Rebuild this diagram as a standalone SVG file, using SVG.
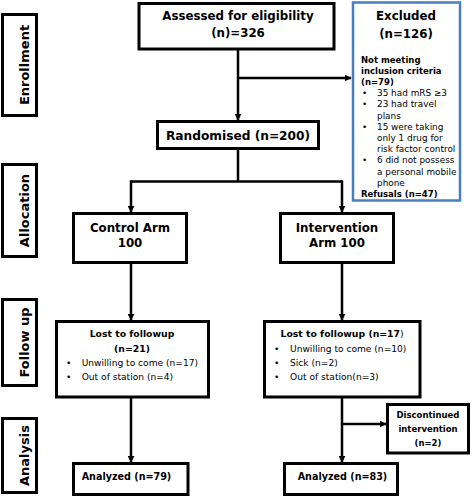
<svg xmlns="http://www.w3.org/2000/svg" width="472" height="497" viewBox="0 0 472 497">
<style>
.box{fill:#fff;stroke:#000;stroke-width:3}
.blue{fill:#fff;stroke:#4a7ebf;stroke-width:2.5}
.ln{fill:none;stroke:#000;stroke-width:2.5}
text{font-family:"DejaVu Sans","Verdana",sans-serif;fill:#000}
.h{font-weight:bold;font-size:11.8px;text-anchor:middle}
.lab{font-weight:bold;font-size:13px;text-anchor:middle}
.b9{font-weight:bold;font-size:9.3px}
.r9{font-size:9.1px}
.an{font-weight:bold;font-size:9.6px}
.bx{font-weight:bold;font-size:8.5px}
.rx{font-size:8.9px}
.c{text-anchor:middle}
</style>
<defs>
<marker id="ah" viewBox="0 0 10 10" refX="9" refY="5" markerWidth="7" markerHeight="7" markerUnits="userSpaceOnUse" orient="auto">
<path d="M0,0 L10,5 L0,10 z" fill="#000"/>
</marker>
</defs>
<rect width="472" height="497" fill="#fff"/>

<g id="connectors">
<path class="ln" d="M238,49 V120" marker-end="url(#ah)"/>
<path class="ln" d="M238,78 H351" marker-end="url(#ah)"/>
<path class="ln" d="M238,149 V181.5 M131,181.5 H342"/>
<path class="ln" d="M131,180.3 V212" marker-end="url(#ah)"/>
<path class="ln" d="M342,180.3 V212" marker-end="url(#ah)"/>
<path class="ln" d="M131,263 V320" marker-end="url(#ah)"/>
<path class="ln" d="M342,263 V320" marker-end="url(#ah)"/>
<path class="ln" d="M131,397 V462" marker-end="url(#ah)"/>
<path class="ln" d="M342,397 V462" marker-end="url(#ah)"/>
<path class="ln" d="M342,424 H386" marker-end="url(#ah)"/>
</g>

<g id="label-enrollment">
<rect class="box" x="2.5" y="14.5" width="34" height="101"/>
<text class="lab" transform="translate(24,65) rotate(-90)" x="0" y="4.5">Enrollment</text>
</g>
<g id="label-allocation">
<rect class="box" x="2.5" y="164.5" width="34" height="92"/>
<text class="lab" transform="translate(24,210.5) rotate(-90)" x="0" y="4.5">Allocation</text>
</g>
<g id="label-followup">
<rect class="box" x="2.5" y="299.5" width="34" height="86"/>
<text class="lab" transform="translate(24,342.5) rotate(-90)" x="0" y="4.5">Follow up</text>
</g>
<g id="label-analysis">
<rect class="box" x="2.5" y="418.5" width="34" height="74"/>
<text class="lab" transform="translate(24,455.5) rotate(-90)" x="0" y="4.5">Analysis</text>
</g>

<g id="assessed">
<rect class="box" x="139" y="3.5" width="195" height="45.5"/>
<text class="h" x="238" y="19.5">Assessed for eligibility</text>
<text class="h" x="238" y="36.5">(n)=326</text>
</g>

<g id="excluded">
<rect class="blue" x="353" y="2.5" width="107" height="198"/>
<text class="h" x="406" y="19.5">Excluded</text>
<text class="h" x="406" y="37.5">(n=126)</text>
<text class="bx" x="361" y="62.5">Not meeting</text>
<text class="bx" x="361" y="73.7">inclusion criteria</text>
<text class="bx" x="361" y="84.9">(n=79)</text>
<text class="rx" x="362" y="96.1">•</text><text class="rx" x="377" y="96.1">35 had mRS ≥3</text>
<text class="rx" x="362" y="107.3">•</text><text class="rx" x="377" y="107.3">23 had travel</text>
<text class="rx" x="377" y="118.5">plans</text>
<text class="rx" x="362" y="129.7">•</text><text class="rx" x="377" y="129.7">15 were taking</text>
<text class="rx" x="377" y="140.9">only 1 drug for</text>
<text class="rx" x="377" y="152.1">risk factor control</text>
<text class="rx" x="362" y="163.3">•</text><text class="rx" x="377" y="163.3">6 did not possess</text>
<text class="rx" x="377" y="174.5">a personal mobile</text>
<text class="rx" x="377" y="185.7">phone</text>
<text class="bx" x="361" y="196.9">Refusals (n=47)</text>
</g>

<g id="randomised">
<rect class="box" x="157.5" y="121.5" width="161" height="27"/>
<text class="h" x="238" y="139.5" style="font-size:12.2px">Randomised (n=200)</text>
</g>

<g id="control-arm">
<rect class="box" x="73.5" y="213.5" width="113" height="49"/>
<text class="h" x="130" y="231.5">Control Arm</text>
<text class="h" x="130" y="247">100</text>
</g>

<g id="intervention-arm">
<rect class="box" x="280.5" y="213.5" width="113" height="49"/>
<text class="h" x="337" y="231.5">Intervention</text>
<text class="h" x="337" y="247">Arm 100</text>
</g>

<g id="lost-control">
<rect class="box" x="56.5" y="321.5" width="152" height="75.5"/>
<text class="b9 c" x="132" y="337">Lost to followup</text>
<text class="b9 c" x="132" y="352">(n=21)</text>
<text class="r9" x="66" y="366">•</text><text class="r9" x="81.7" y="366">Unwilling to come (n=17)</text>
<text class="r9" x="66" y="380">•</text><text class="r9" x="81.7" y="380">Out of station (n=4)</text>
</g>

<g id="lost-intervention">
<rect class="box" x="264.5" y="321.5" width="155.5" height="75.5"/>
<text class="b9" x="280.5" y="337">Lost to followup (n=17<tspan font-weight="normal">)</tspan></text>
<text class="r9" x="274" y="352">•</text><text class="r9" x="290" y="352">Unwilling to come (n=10)</text>
<text class="r9" x="274" y="366">•</text><text class="r9" x="290" y="366">Sick (n=2)</text>
<text class="r9" x="274" y="380">•</text><text class="r9" x="290" y="380">Out of station(n=3)</text>
</g>

<g id="discontinued">
<rect class="box" x="387.5" y="404.5" width="81" height="48.5"/>
<text class="bx c" x="428" y="418">Discontinued</text>
<text class="bx c" x="428" y="431.5">intervention</text>
<text class="bx c" x="428" y="446">(n=2)</text>
</g>

<g id="analyzed-control">
<rect class="box" x="73.5" y="463.5" width="114.5" height="31"/>
<text class="an" x="81.7" y="479.5">Analyzed (n=79)</text>
</g>

<g id="analyzed-intervention">
<rect class="box" x="284.5" y="463.5" width="113" height="31"/>
<text class="an" x="297.7" y="479.5">Analyzed (n=83)</text>
</g>
</svg>
